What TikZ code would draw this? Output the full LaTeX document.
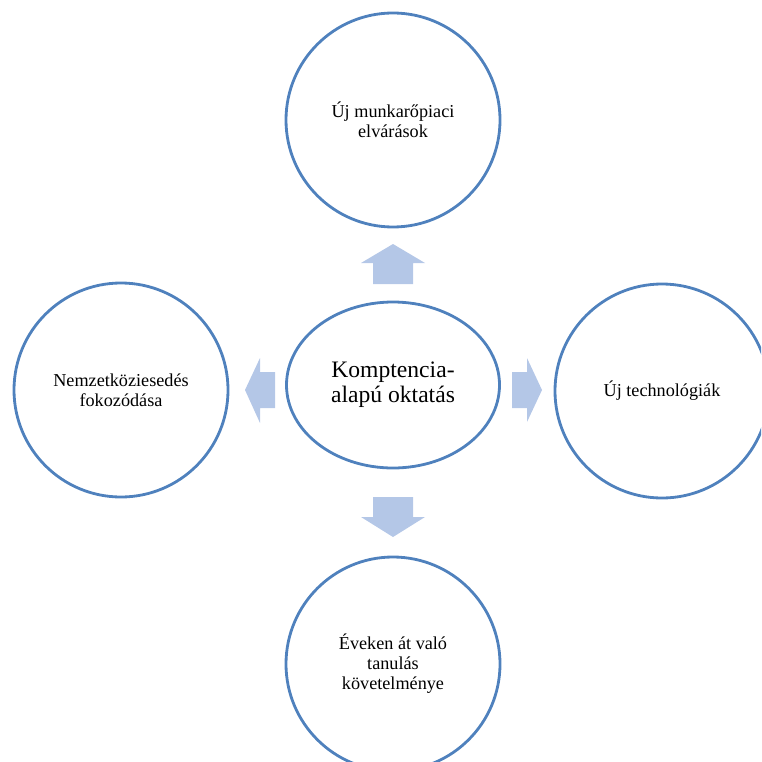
\documentclass[tikz,border=0pt]{standalone}
\usepackage{fontspec}
\setmainfont{Liberation Serif}
\usetikzlibrary{shapes.geometric}
\definecolor{ringblue}{HTML}{4F81BD}
\definecolor{arrowfill}{HTML}{B4C7E7}
\tikzset{
  ring/.style={circle, draw=ringblue, line width=2.8pt, minimum size=214pt, inner sep=0pt, align=center, font=\fontsize{18.2}{20}\selectfont},
  hub/.style={ellipse, draw=ringblue, line width=2.8pt, minimum width=213pt, minimum height=166pt, inner sep=0pt, align=center, font=\fontsize{23.6}{25}\selectfont},
  blockarrow/.style={fill=arrowfill, draw=none}
}
\begin{document}
\begin{tikzpicture}[x=1pt,y=-1pt]
\useasboundingbox (0,0) rectangle (761,762);
\clip (0,0) rectangle (761,762);
\node[hub] (c) at (393,385) {Komptencia-\\alapú oktatás};
\node[ring] (t) at (393,120) {Új munkarőpiaci\\elvárások};
\node[ring] (l) at (121,390) {Nemzetköziesedés\\fokozódása};
\node[ring] (r) at (662,391) {Új technológiák};
\node[ring] (b) at (393,664) {Éveken át való\\tanulás\\követelménye};
% up arrow
\fill[blockarrow] (373,284) -- (373,263) -- (361,263) -- (393,244) -- (425,263) -- (413,263) -- (413,284) -- cycle;
% down arrow
\fill[blockarrow] (373,497) -- (373,517) -- (361,517) -- (393,537) -- (425,517) -- (413,517) -- (413,497) -- cycle;
% right arrow
\fill[blockarrow] (512,372) -- (527,372) -- (527,358) -- (542,390) -- (527,422) -- (527,408) -- (512,408) -- cycle;
% left arrow
\fill[blockarrow] (275,372) -- (260,372) -- (260,358) -- (245,390) -- (260,423) -- (260,408) -- (275,408) -- cycle;
\end{tikzpicture}
\end{document}
